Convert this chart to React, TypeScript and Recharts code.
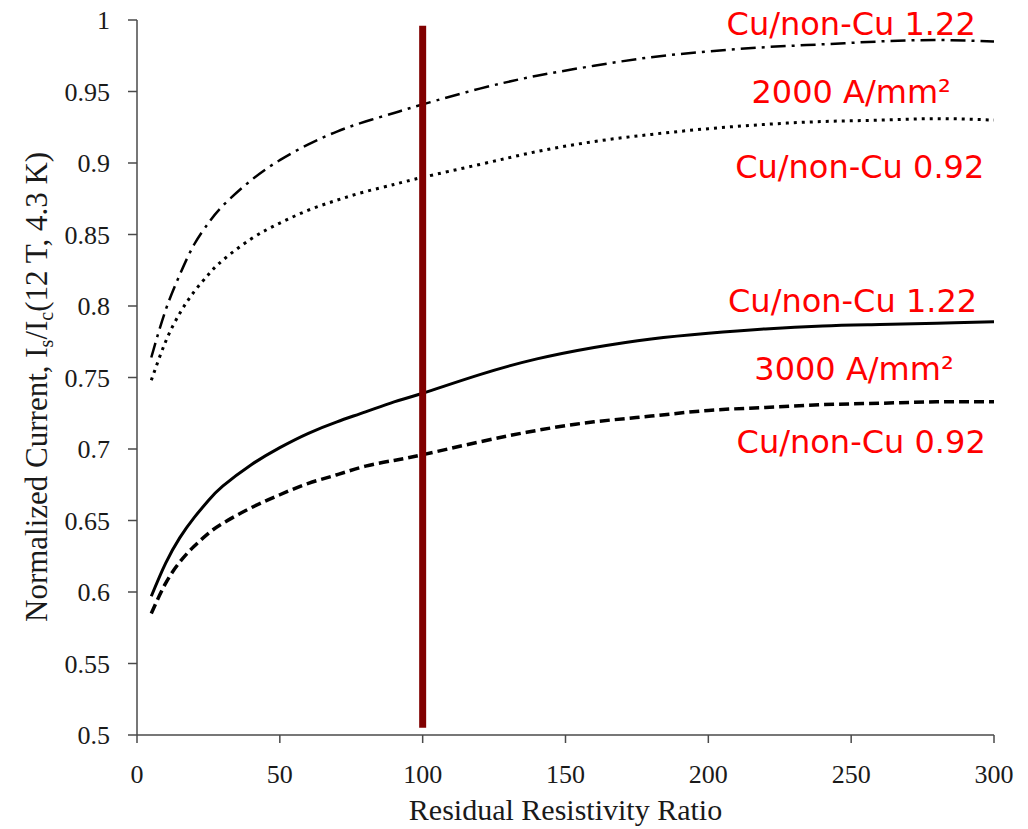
import React from "react";
import {
  LineChart,
  Line,
  XAxis,
  YAxis,
  ReferenceLine,
  ReferenceDot,
} from "recharts";

// residual resistivity ratio samples
const rrr = [5, 10, 15, 20, 25, 30, 40, 50, 60, 70, 80, 90, 100, 120, 140, 160, 180, 200, 220, 240, 260, 280, 300];

// 2000 A/mm2
const j2000Cu122 = [0.764, 0.797, 0.822, 0.843, 0.858, 0.87, 0.888, 0.902, 0.913, 0.922, 0.929, 0.935, 0.941, 0.952, 0.961, 0.968, 0.974, 0.978, 0.981, 0.983, 0.985, 0.986, 0.985];
const j2000Cu092 = [0.748, 0.775, 0.795, 0.81, 0.822, 0.832, 0.847, 0.858, 0.867, 0.874, 0.88, 0.885, 0.89, 0.899, 0.908, 0.915, 0.92, 0.924, 0.927, 0.929, 0.93, 0.931, 0.93];

// 3000 A/mm2
const j3000Cu122 = [0.597, 0.62, 0.638, 0.652, 0.664, 0.674, 0.689, 0.701, 0.711, 0.719, 0.726, 0.733, 0.739, 0.752, 0.763, 0.771, 0.777, 0.781, 0.784, 0.786, 0.787, 0.788, 0.789];
const j3000Cu092 = [0.585, 0.606, 0.621, 0.632, 0.641, 0.648, 0.659, 0.668, 0.676, 0.682, 0.688, 0.692, 0.696, 0.705, 0.713, 0.719, 0.723, 0.727, 0.729, 0.731, 0.732, 0.733, 0.733];

const xTicks = [0, 50, 100, 150, 200, 250, 300];
const yTicks = [0.5, 0.55, 0.6, 0.65, 0.7, 0.75, 0.8, 0.85, 0.9, 0.95, 1];

// annotation text anchored in data coordinates (x = RRR, y = baseline value)
const notes = [
  { text: "Cu/non-Cu 1.22", x: 250, y: 0.9895 },
  { text: "2000 A/mm²", x: 250, y: 0.942 },
  { text: "Cu/non-Cu 0.92", x: 253, y: 0.8895 },
  { text: "Cu/non-Cu 1.22", x: 250.5, y: 0.796 },
  { text: "3000 A/mm²", x: 251, y: 0.748 },
  { text: "Cu/non-Cu 0.92", x: 253.5, y: 0.697 },
];

const data = rrr.map((r, i) => ({
  rrr: r,
  a: j2000Cu122[i],
  b: j2000Cu092[i],
  c: j3000Cu122[i],
  d: j3000Cu092[i],
}));

const serif = "'Liberation Serif', 'Times New Roman', serif";
const axisColor = "#4a4a4a";

const YTitle = () => {
  const cx = 47;
  const cy = 622;
  return (
    <text
      x={cx}
      y={cy}
      transform={`rotate(-90, ${cx}, ${cy})`}
      textAnchor="start"
      fontFamily={serif}
      fontSize={31}
      fill="#1a1a1a"
    >
      Normalized Current, I
      <tspan fontSize={20} dy={6}>s</tspan>
      <tspan dy={-6}>/I</tspan>
      <tspan fontSize={20} dy={6}>c</tspan>
      <tspan dy={-6}>(12 T, 4.3 K)</tspan>
    </text>
  );
};

export default function App() {
  return (
    <div style={{ position: "absolute", left: 0, top: 0, width: 1028, height: 829, background: "#fff" }}>
      <LineChart
        width={1028}
        height={829}
        data={data}
        margin={{ top: 20, right: 34, bottom: 0, left: 0 }}
      >
        <XAxis
          dataKey="rrr"
          type="number"
          domain={[0, 300]}
          ticks={xTicks}
          height={94}
          tickSize={8}
          tickMargin={22}
          stroke={axisColor}
          strokeWidth={1.5}
          tick={{ fill: "#1a1a1a", fontFamily: serif, fontSize: 26 }}
          label={{
            value: "Residual Resistivity Ratio",
            position: "insideBottom",
            offset: 9,
            fill: "#1a1a1a",
            fontFamily: serif,
            fontSize: 30,
          }}
        />
        <YAxis
          type="number"
          domain={[0.5, 1]}
          ticks={yTicks}
          width={137}
          tickSize={9}
          tickMargin={18}
          stroke={axisColor}
          strokeWidth={1.5}
          tickFormatter={(v: number) => String(v)}
          tick={{ fill: "#1a1a1a", fontFamily: serif, fontSize: 26 }}
          label={{ content: YTitle }}
        />
        <Line dataKey="a" type="natural" stroke="#000" strokeWidth={2.5} strokeDasharray="15 6 3 6" dot={false} isAnimationActive={false} />
        <Line dataKey="b" type="natural" stroke="#000" strokeWidth={3} strokeDasharray="3 5" dot={false} isAnimationActive={false} />
        <Line dataKey="c" type="natural" stroke="#000" strokeWidth={3} dot={false} isAnimationActive={false} />
        <Line dataKey="d" type="natural" stroke="#000" strokeWidth={3.5} strokeDasharray="10 5" dot={false} isAnimationActive={false} />
        <ReferenceLine
          segment={[
            { x: 100, y: 0.505 },
            { x: 100, y: 0.996 },
          ]}
          stroke="#800000"
          strokeWidth={7}
        />
        {notes.map((n, i) => (
          <ReferenceDot
            key={i}
            x={n.x}
            y={n.y}
            r={0}
            shape={(p: any) => (
              <text
                x={p.cx}
                y={p.cy}
                textAnchor="middle"
                fontFamily="'DejaVu Sans', Verdana, sans-serif"
                fontSize={32}
                fill="#ff0000"
              >
                {n.text}
              </text>
            )}
          />
        ))}
      </LineChart>
    </div>
  );
}
